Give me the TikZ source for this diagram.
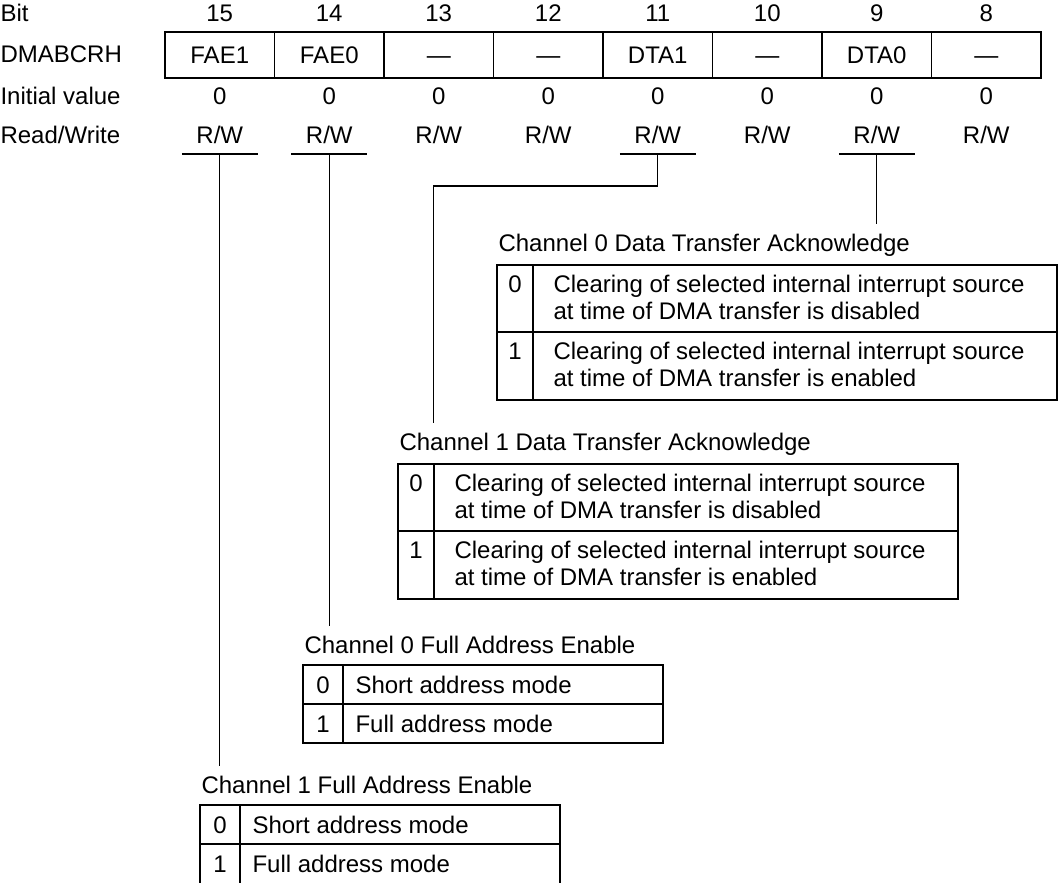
\documentclass[tikz,border=0pt]{standalone}
\usepackage{fontspec}
\setmainfont{Liberation Sans}
\begin{document}
\begin{tikzpicture}[x=1pt,y=-1pt,line width=1.1pt,
  txt/.style={inner sep=0pt, font=\fontsize{24}{28}\selectfont},
  lab/.style={txt, anchor=base west},
  val/.style={txt, anchor=base},
  title/.style={txt, anchor=base west},
  cell/.style={txt, draw, minimum width=109.5pt, minimum height=46pt,
    text height=17pt, text depth=0pt, anchor=center},
  wire/.style={shorten >=9pt},
]
\useasboundingbox (0,0) rectangle (1061,883);
\clip (0,0) rectangle (1061,883);

% row headings
\node[lab] (lbit)  at (0,22)  {Bit};
\node[lab] (lreg)  at (0,63)  {DMABCRH};
\node[lab] (linit) at (0,105) {Initial value};
\node[lab] (lrw)   at (0,143) {Read/Write};

% register bits
\foreach \b/\f [count=\i from 0] in {15/FAE1,14/FAE0,13/—,12/—,11/DTA1,10/—,9/DTA0,8/—}{
  \pgfmathsetmacro{\cx}{219.75+109.5*\i}
  \node[val]  (bit\b) at (\cx,22)  {\b};
  \node[cell] (reg\b) at (\cx,55)  {\f};
  \node[val]  (ini\b) at (\cx,105) {0};
  \node[val]  (rw\b)  at (\cx,143) {R/W};
}

% underlines of the described bits
\foreach \b in {15,14,11,9}{
  \path (rw\b.base) ++(0,11) coordinate (tap\b);
  \draw ([xshift=-38pt]tap\b) -- ([xshift=38pt]tap\b);
}

% Data transfer acknowledge tables: #1 name, #2 left, #3 top, #4 channel
\newcommand\acktable[4]{
  \begin{scope}[shift={(#2,#3)}]
    \node[title] (t#1) at (1,-14) {Channel #4 Data Transfer Acknowledge};
    \draw (0,0) rectangle (560,135);
    \draw (0,67) -- (560,67);
    \draw (36,0) -- (36,135);
    \node[val] (#1k0) at (18,27)  {0};
    \node[lab] (#1a)  at (56,27)  {Clearing of selected internal interrupt source};
    \node[lab] (#1b)  at (56,54)  {at time of DMA transfer is disabled};
    \node[val] (#1k1) at (18,94)  {1};
    \node[lab] (#1c)  at (56,94)  {Clearing of selected internal interrupt source};
    \node[lab] (#1d)  at (56,121) {at time of DMA transfer is enabled};
  \end{scope}
}

% Full address enable tables: #1 name, #2 left, #3 top, #4 channel, #5 bottom
\newcommand\faetable[5]{
  \begin{scope}[shift={(#2,#3)}]
    \node[title] (t#1) at (1,-12) {Channel #4 Full Address Enable};
    \draw (0,0) rectangle (360,#5);
    \draw (0,39) -- (360,39);
    \draw (40,0) -- (40,#5);
    \node[val] (#1k0) at (20,28) {0};
    \node[lab] (#1a)  at (52,28) {Short address mode};
    \node[val] (#1k1) at (20,67) {1};
    \node[lab] (#1b)  at (52,67) {Full address mode};
  \end{scope}
}

\acktable{dta0}{497}{265}{0}
\acktable{dta1}{398}{464}{1}
\faetable{fae0}{303}{665}{0}{78}
\faetable{fae1}{200}{805}{1}{84}

% connectors from the bits to their tables
\coordinate (jog11) at (433.5,186);
\draw[wire] (tap9)  -- (tap9 |- tdta0.north);
\draw[wire] (tap11) |- (jog11) -- (jog11 |- tdta1.north);
\draw[wire] (tap14) -- (tap14 |- tfae0.north);
\draw[wire] (tap15) -- (tap15 |- tfae1.north);
\end{tikzpicture}
\end{document}
